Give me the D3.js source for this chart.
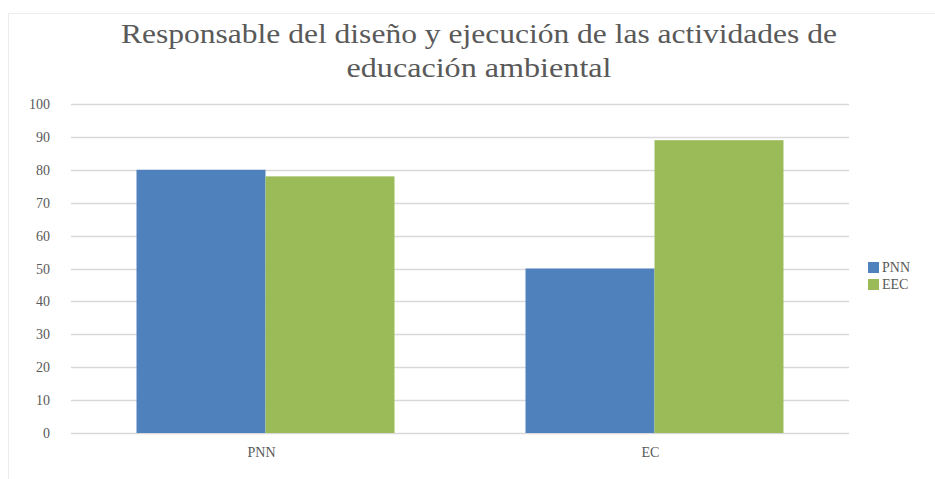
<!DOCTYPE html>
<html>
<head>
<meta charset="utf-8">
<script src="https://cdn.jsdelivr.net/npm/d3@7"></script>
<style>
  body { margin: 0; background: #fff; }
  text { font-family: "Liberation Serif", "DejaVu Serif", serif; fill: #595959; }
</style>
</head>
<body>
<svg width="935" height="479"></svg>
<script>
// chart data
var categories = ["PNN", "EC"];
var seriesNames = ["PNN", "EEC"];
var pnnValues = [80, 50];
var eecValues = [78, 89];
var yTicks = [0, 10, 20, 30, 40, 50, 60, 70, 80, 90, 100];
var colors = ["#4f81bd", "#9bbb59"];

var svg = d3.select("svg");

// chart area border (faint)
svg.append("path")
    .attr("d", "M8.5,479 L8.5,13.5 L935,13.5")
    .attr("fill", "none")
    .attr("stroke", "#ececec");

// title, stretched a little to mimic the wider original face
var title = svg.append("text")
    .attr("text-anchor", "middle")
    .attr("font-size", 28);
title.append("tspan").attr("x", 479).attr("y", 43)
    .attr("textLength", 716).attr("lengthAdjust", "spacingAndGlyphs")
    .text("Responsable del diseño y ejecución de las actividades de");
title.append("tspan").attr("x", 479).attr("y", 77)
    .attr("textLength", 265).attr("lengthAdjust", "spacingAndGlyphs")
    .text("educación ambiental");

var plotLeft = 71, plotRight = 849, plotTop = 104, plotBottom = 433;

var x = d3.scaleBand()
    .domain(categories)
    .range([plotLeft, plotRight]);

var x1 = d3.scaleBand()
    .domain(seriesNames)
    .range([0, 258]);

var y = d3.scaleLinear()
    .domain([0, 100])
    .range([plotBottom, plotTop]);

// gridlines
svg.append("g")
    .selectAll("line")
    .data(yTicks)
    .enter().append("line")
    .attr("x1", plotLeft)
    .attr("x2", plotRight)
    .attr("y1", function(d) { return Math.round(y(d)) + 0.5; })
    .attr("y2", function(d) { return Math.round(y(d)) + 0.5; })
    .attr("stroke", "#d9d9d9")
    .attr("stroke-width", 1.5);

// y labels
svg.append("g")
    .selectAll("text")
    .data(yTicks)
    .enter().append("text")
    .attr("x", 50)
    .attr("y", function(d) { return y(d) + 5; })
    .attr("text-anchor", "end")
    .attr("font-size", 14)
    .text(function(d) { return d; });

// bars
var rows = categories.map(function(c, i) {
    return { cat: c, vals: [pnnValues[i], eecValues[i]] };
});

var groups = svg.append("g")
    .selectAll("g")
    .data(rows)
    .enter().append("g")
    .attr("transform", function(d) {
        return "translate(" + (x(d.cat) + x.bandwidth() / 2 - 129) + ",0)";
    });

groups.selectAll("rect")
    .data(function(d) {
        return d.vals.map(function(v, i) { return { name: seriesNames[i], value: v, i: i }; });
    })
    .enter().append("rect")
    .attr("x", function(d) { return x1(d.name); })
    .attr("width", x1.bandwidth())
    .attr("y", function(d) { return y(d.value); })
    .attr("height", function(d) { return plotBottom - y(d.value); })
    .attr("fill", function(d) { return colors[d.i]; });

// x labels
svg.append("g")
    .selectAll("text")
    .data(categories)
    .enter().append("text")
    .attr("x", function(d) { return x(d) + x.bandwidth() / 2 - 4; })
    .attr("y", 457)
    .attr("text-anchor", "middle")
    .attr("font-size", 14)
    .text(function(d) { return d; });

// legend
var legend = svg.append("g")
    .selectAll("g")
    .data(seriesNames)
    .enter().append("g")
    .attr("transform", function(d, i) { return "translate(868," + (262 + i * 17) + ")"; });

legend.append("rect")
    .attr("width", 11)
    .attr("height", 11)
    .attr("fill", function(d, i) { return colors[i]; });

legend.append("text")
    .attr("x", 14)
    .attr("y", 10)
    .attr("font-size", 14)
    .text(function(d) { return d; });
</script>
</body>
</html>
